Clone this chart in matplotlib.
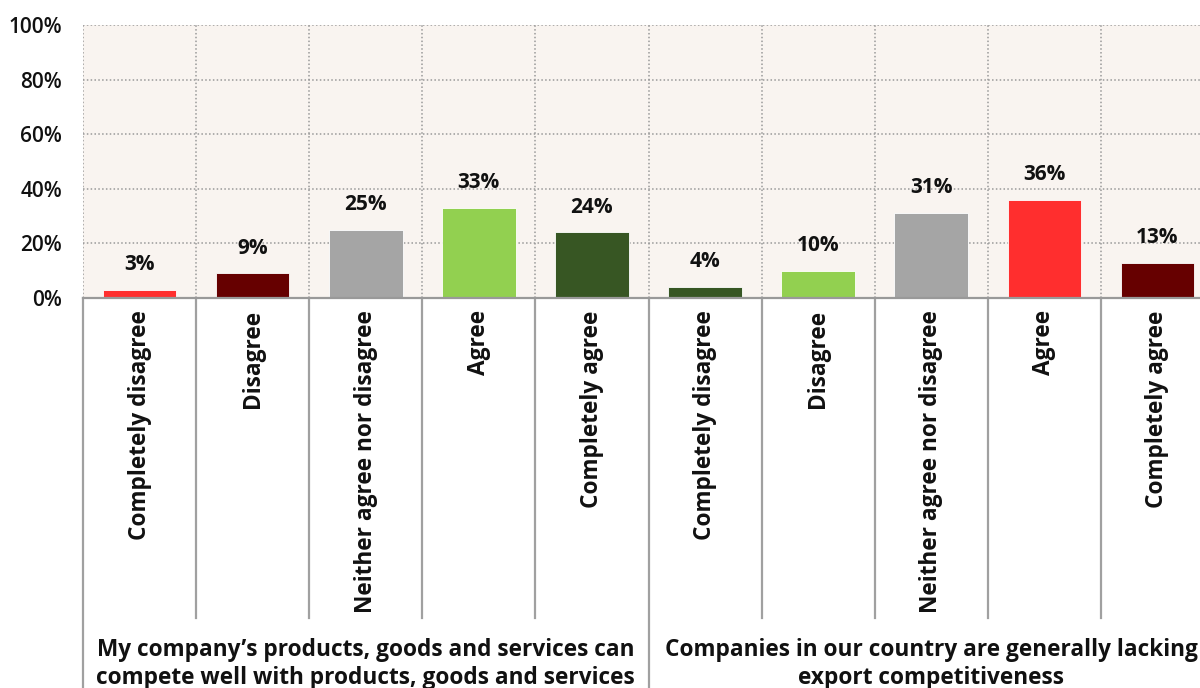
import matplotlib.pyplot as plt
from matplotlib.transforms import blended_transform_factory

plt.rcParams['font.family'] = ['Open Sans', 'DejaVu Sans']

# survey answers, two statements with five answers each
answers = ['Completely disagree', 'Disagree', 'Neither agree nor disagree',
           'Agree', 'Completely agree']
statements = ["My company\u2019s products, goods and services can\ncompete well with products, goods and services",
              "Companies in our country are generally lacking\nexport competitiveness"]
share_own = [3, 9, 25, 33, 24]
share_country = [4, 10, 31, 36, 13]

red = '#ff2e2e'
dark_red = '#660000'
grey = '#a5a5a5'
light_green = '#92d050'
dark_green = '#375623'
colors_own = [red, dark_red, grey, light_green, dark_green]
colors_country = [dark_green, light_green, grey, red, dark_red]

labels = answers + answers
values = share_own + share_country
colors = colors_own + colors_country
n = len(values)

fig = plt.figure(figsize=(12, 6.88), dpi=100)
ax = fig.add_axes([83 / 1200, (688 - 298) / 688, (1214 - 83) / 1200, 273 / 688])
ax.set_facecolor('#f9f4f0')

xs = [i + 0.5 for i in range(n)]
ax.bar(xs, values, width=0.65, color=colors, edgecolor='#ffffff', linewidth=0.6, zorder=3)
for x, v in zip(xs, values):
    ax.text(x, v + 9.3, '%d%%' % v, ha='center', va='center',
            fontsize=15, fontweight='bold', color='#111111')

ax.set_xlim(0, n)
ax.set_ylim(0, 100)
ax.set_yticks(range(0, 101, 20))
ax.set_yticklabels(['%d%%' % t for t in range(0, 101, 20)], fontsize=15,
                   fontweight='semibold', color='#111111')
ax.set_xticks([])
ax.tick_params(axis='y', length=0, pad=15)
for s in ax.spines.values():
    s.set_visible(False)

# dotted grid
for t in range(20, 101, 20):
    ax.axhline(t, color='#999999', linestyle=(0, (1, 1.5)), linewidth=1.1, zorder=1)
for i in range(n):
    ax.axvline(i, color='#999999', linestyle=(0, (1, 1.5)), linewidth=1.1, zorder=1)
ax.axhline(0, color='#999999', linewidth=1.6, zorder=4, clip_on=False)

# separators and labels under the axis
trans = blended_transform_factory(ax.transData, ax.transAxes)
for i in range(n + 1):
    bottom = -1.5 if i % 5 == 0 else -1.172
    ax.plot([i, i], [0, bottom], color='#a0a0a0', linewidth=1.6,
            transform=trans, clip_on=False)

for x, lab in zip(xs, labels):
    ax.text(x, -0.045, lab, rotation=90, ha='center', va='top', transform=trans,
            fontsize=16.3, fontweight='bold', color='#111111')

for g, st in enumerate(statements):
    ax.text(g * 5 + 2.5, -1.245, st, ha='center', va='top', transform=trans,
            fontsize=16.3, fontweight='bold', color='#111111', linespacing=1.22)

fig.savefig('out.png', dpi=100)
